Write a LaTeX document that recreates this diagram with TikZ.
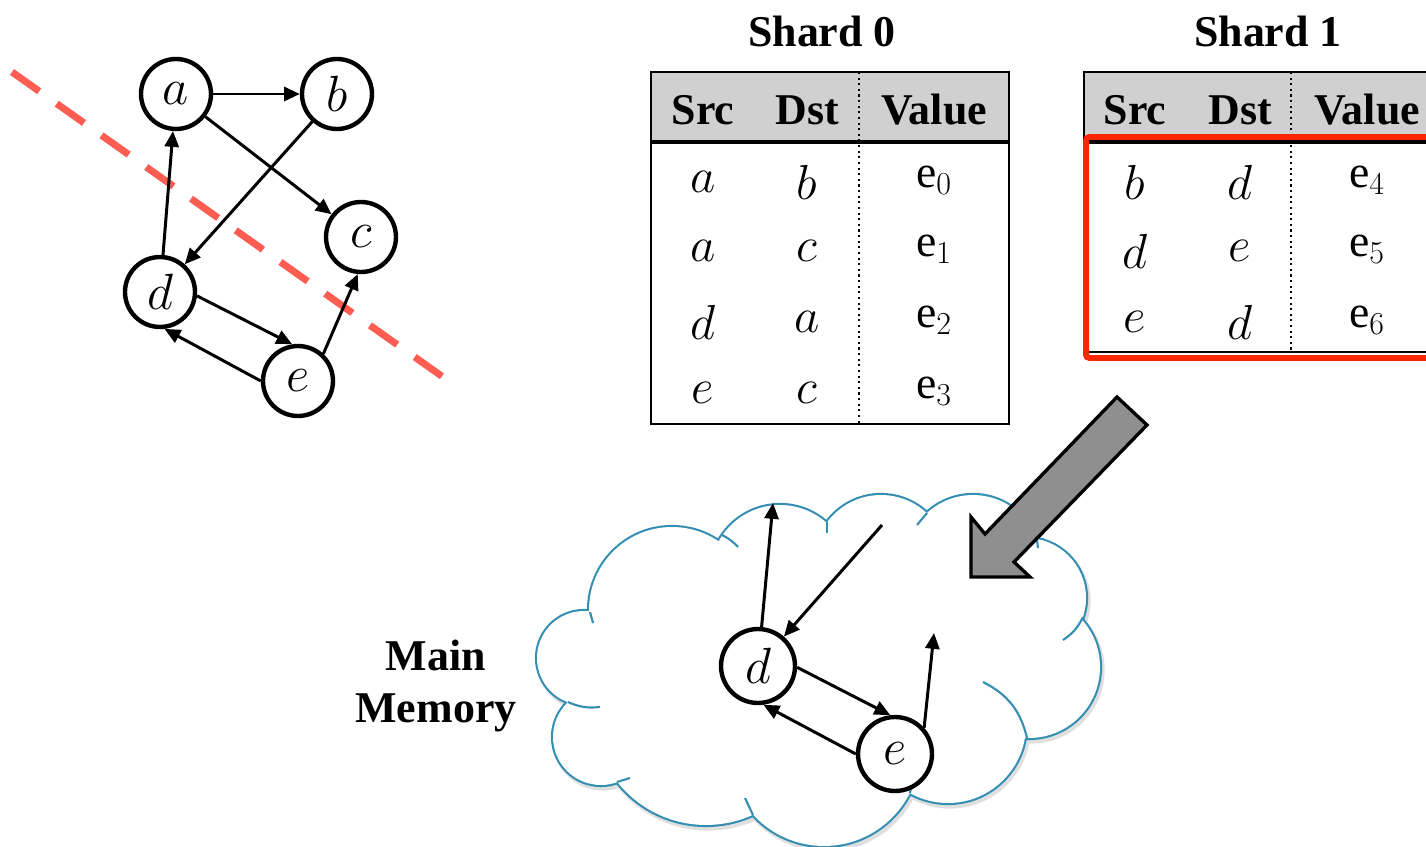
\RequirePackage{fix-cm}
\documentclass[tikz,border=0pt]{standalone}
\usepackage{fontspec}
\setmainfont{Liberation Serif}
\usetikzlibrary{arrows.meta}

\definecolor{cutred}{RGB}{255,92,82}
\definecolor{boxred}{RGB}{250,38,0}
\definecolor{cloudblue}{RGB}{52,142,178}
\definecolor{headgray}{RGB}{208,208,208}
\definecolor{blockgray}{RGB}{143,143,143}

% puffs of the memory cloud
\newcommand{\cloudpuffs}{(584,658) circle[radius=0.94cm] (672,610) circle[radius=1.66cm]
  (780,575) circle[radius=1.40cm] (881,562) circle[radius=1.34cm]
  (973,563) circle[radius=1.36cm] (1026,598) circle[radius=1.20cm]
  (1029,667) circle[radius=1.42cm] (948,725) circle[radius=1.56cm]
  (824,750) circle[radius=1.92cm] (706,712) circle[radius=2.26cm]
  (601,737) circle[radius=0.96cm]}

\begin{document}
\begin{tikzpicture}[x=0.02cm, y=-0.02cm,
    vertex/.style={circle, draw, fill=white, line width=2.5pt, minimum size=1.40cm, inner sep=0pt, font=\fontsize{29}{30}\selectfont},
    edge/.style={line width=1.7pt, -{Triangle[length=9pt,width=8pt]}},
    head/.style={font=\fontsize{25}{29.6}\selectfont\bfseries},
    cell/.style={font=\fontsize{28}{30}\selectfont},
    val/.style={font=\fontsize{26}{30}\selectfont},
    rule/.style={line width=1.3pt},
    blockarrow/.style={fill=blockgray, draw=black, line width=1.9pt}]
    \useasboundingbox (0,0) rectangle (1426,847);
    \clip (0,0) rectangle (1426,847);

    % graph with the cut
    \draw[cutred, line width=4pt, dash pattern=on 19pt off 12.2pt] (12,72) -- (450,382);
    \node[vertex] (a) at (176,94) {$a$};
    \node[vertex] (b) at (337,94) {$b$};
    \node[vertex] (c) at (361,237) {$c$};
    \node[vertex] (d) at (160,292) {$d$};
    \node[vertex] (e) at (298,381) {$e$};
    \draw[edge] (a) -- (b);
    \draw[edge] (a) -- (c);
    \draw[edge] (b) -- (d);
    \draw[edge] (d) -- (a);
    \draw[edge] (d.-6) -- (e.99);
    \draw[edge] (e.180) -- (d.-83);
    \draw[edge] (e.47) -- (c.-95);

    % shard 0
    \node[head] (title0) at (822,31) {Shard 0};
    \fill[headgray] (651,72) rectangle (1009,142);
    \draw[rule] (651,72) rectangle (1009,424);
    \draw[line width=2pt] (651,142) -- (1009,142);
    \draw[dotted, line width=1.2pt] (859,72) -- (859,424);
    \node[head] (src0) at (703,110) {Src};
    \node[head] (dst0) at (807,110) {Dst};
    \node[head] (val0) at (934,110) {Value};
    \node[cell] (s0r1a) at (703,182) {$a$};
    \node[cell] (s0r1b) at (807,182) {$b$};
    \node[val] (s0r1c) at (934,180) {e$_0$};
    \node[cell] (s0r2a) at (703,251) {$a$};
    \node[cell] (s0r2b) at (807,251) {$c$};
    \node[val] (s0r2c) at (934,249) {e$_1$};
    \node[cell] (s0r3a) at (703,322) {$d$};
    \node[cell] (s0r3b) at (807,322) {$a$};
    \node[val] (s0r3c) at (934,320) {e$_2$};
    \node[cell] (s0r4a) at (703,393) {$e$};
    \node[cell] (s0r4b) at (807,393) {$c$};
    \node[val] (s0r4c) at (934,391) {e$_3$};

    % shard 1
    \node[head] (title1) at (1268,31) {Shard 1};
    \fill[headgray] (1084,72) rectangle (1440,142);
    \draw[rule] (1440,72) -- (1084,72) -- (1084,352) -- (1440,352);
    \draw[line width=2pt] (1084,142) -- (1440,142);
    \draw[dotted, line width=1.2pt] (1291,72) -- (1291,352);
    \node[head] (src1) at (1135,110) {Src};
    \node[head] (dst1) at (1240,110) {Dst};
    \node[head] (val1) at (1367,110) {Value};
    \node[cell] (s1r1a) at (1135,182) {$b$};
    \node[cell] (s1r1b) at (1240,182) {$d$};
    \node[val] (s1r1c) at (1367,180) {e$_4$};
    \node[cell] (s1r2a) at (1135,251) {$d$};
    \node[cell] (s1r2b) at (1240,251) {$e$};
    \node[val] (s1r2c) at (1367,249) {e$_5$};
    \node[cell] (s1r3a) at (1135,322) {$e$};
    \node[cell] (s1r3b) at (1240,322) {$d$};
    \node[val] (s1r3c) at (1367,320) {e$_6$};
    \draw[boxred, line width=3.4pt, rounded corners=2pt] (1086,137) rectangle (1450,358);

    % main memory cloud
    \draw[gray!25, line width=3pt, shift={(2,3)}] \cloudpuffs;
    \draw[cloudblue, line width=2.4pt] \cloudpuffs;
    \fill[white] \cloudpuffs;
    \fill[white] (820,670) ellipse [x radius=4.3cm, y radius=2.3cm];
    \draw[cloudblue, line width=1.2pt] (590,612) -- (593,623);
    \draw[cloudblue, line width=1.2pt] (722,535) to[bend left=10] (738,547);
    \draw[cloudblue, line width=1.2pt] (827,522) -- (827,533);
    \draw[cloudblue, line width=1.2pt] (927,513) -- (917,525);
    \draw[cloudblue, line width=1.2pt] (1037,540) -- (1038,548);
    \draw[cloudblue, line width=1.2pt] (1083,617) to[bend left=15] (1063,640);
    \draw[cloudblue, line width=1.2pt] (1027,738) to[bend right=25] (983,682);
    \draw[cloudblue, line width=1.2pt] (910,793) -- (913,777);
    \draw[cloudblue, line width=1.2pt] (753,815) -- (745,798);
    \draw[cloudblue, line width=1.2pt] (617,782) -- (630,778);
    \draw[cloudblue, line width=1.2pt] (568,702) to[bend right=15] (600,707);
    \node[head, align=center] (mem) at (436,686) {Main\\Memory};

    % edges of shard 1 in memory
    \node[vertex, minimum size=1.48cm] (d2) at (758,666) {$d$};
    \node[vertex, minimum size=1.48cm] (e2) at (895,754) {$e$};
    \coordinate (d2out) at (773,503);
    \coordinate (d2in) at (882,525);
    \coordinate (e2out) at (934,633);
    \draw[edge] (d2) -- (d2out);
    \draw[edge] (d2in) -- (d2);
    \draw[edge] (d2.-2) -- (e2.97);
    \draw[edge] (e2.180) -- (d2.-82);
    \draw[edge] (e2.42) -- (e2out);

    % loading arrow
    \draw[blockarrow] (971,577) -- (971,517) -- (985,534) -- (1117,397) -- (1147,425) -- (1014,562) -- (1030,577) -- cycle;
\end{tikzpicture}
\end{document}
